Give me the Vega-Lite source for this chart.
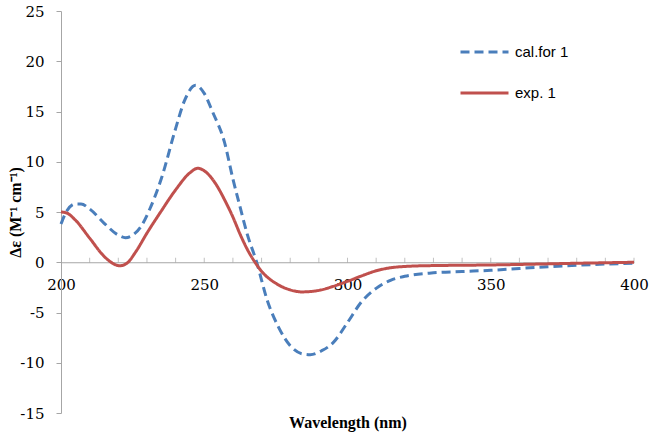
{
  "$schema": "https://vega.github.io/schema/vega-lite/v6.json",
  "width": 573,
  "height": 402,
  "autosize": {"type": "none"},
  "padding": {"left": 61, "top": 11, "right": 19, "bottom": 23},
  "background": "white",
  "config": {
    "view": {"stroke": null}
  },
  "datasets": {
    "minor": [
      {"wl": 210}, {"wl": 220}, {"wl": 230}, {"wl": 240}, {"wl": 250}, {"wl": 260}, {"wl": 270}, {"wl": 280}, {"wl": 290}, {"wl": 300},
      {"wl": 310}, {"wl": 320}, {"wl": 330}, {"wl": 340}, {"wl": 350}, {"wl": 360}, {"wl": 370}, {"wl": 380}, {"wl": 390}, {"wl": 400}
    ],
    "curves": [
    {"wl": 200, "v": 3.8, "s": "cal.for 1"},
    {"wl": 202, "v": 5.1, "s": "cal.for 1"},
    {"wl": 205, "v": 5.8, "s": "cal.for 1"},
    {"wl": 207, "v": 5.8, "s": "cal.for 1"},
    {"wl": 210, "v": 5.3, "s": "cal.for 1"},
    {"wl": 215, "v": 3.9, "s": "cal.for 1"},
    {"wl": 220, "v": 2.7, "s": "cal.for 1"},
    {"wl": 222.5, "v": 2.45, "s": "cal.for 1"},
    {"wl": 225, "v": 2.7, "s": "cal.for 1"},
    {"wl": 228, "v": 3.6, "s": "cal.for 1"},
    {"wl": 231, "v": 5.3, "s": "cal.for 1"},
    {"wl": 235, "v": 8.3, "s": "cal.for 1"},
    {"wl": 240, "v": 13.3, "s": "cal.for 1"},
    {"wl": 243, "v": 16.0, "s": "cal.for 1"},
    {"wl": 247, "v": 17.6, "s": "cal.for 1"},
    {"wl": 250, "v": 16.8, "s": "cal.for 1"},
    {"wl": 253, "v": 14.9, "s": "cal.for 1"},
    {"wl": 257, "v": 12.0, "s": "cal.for 1"},
    {"wl": 260, "v": 8.3, "s": "cal.for 1"},
    {"wl": 262.5, "v": 5.5, "s": "cal.for 1"},
    {"wl": 265, "v": 2.8, "s": "cal.for 1"},
    {"wl": 268.3, "v": 0, "s": "cal.for 1"},
    {"wl": 272, "v": -3.8, "s": "cal.for 1"},
    {"wl": 276, "v": -6.5, "s": "cal.for 1"},
    {"wl": 280, "v": -8.3, "s": "cal.for 1"},
    {"wl": 284, "v": -9.1, "s": "cal.for 1"},
    {"wl": 287, "v": -9.2, "s": "cal.for 1"},
    {"wl": 291, "v": -8.8, "s": "cal.for 1"},
    {"wl": 295, "v": -8.0, "s": "cal.for 1"},
    {"wl": 300, "v": -6.0, "s": "cal.for 1"},
    {"wl": 305, "v": -3.9, "s": "cal.for 1"},
    {"wl": 310, "v": -2.6, "s": "cal.for 1"},
    {"wl": 315, "v": -1.8, "s": "cal.for 1"},
    {"wl": 320, "v": -1.4, "s": "cal.for 1"},
    {"wl": 330, "v": -1.05, "s": "cal.for 1"},
    {"wl": 340, "v": -0.92, "s": "cal.for 1"},
    {"wl": 350, "v": -0.8, "s": "cal.for 1"},
    {"wl": 360, "v": -0.62, "s": "cal.for 1"},
    {"wl": 370, "v": -0.45, "s": "cal.for 1"},
    {"wl": 380, "v": -0.3, "s": "cal.for 1"},
    {"wl": 390, "v": -0.18, "s": "cal.for 1"},
    {"wl": 400, "v": -0.1, "s": "cal.for 1"},
    {"wl": 200, "v": 5.0, "s": "exp. 1"},
    {"wl": 202, "v": 4.9, "s": "exp. 1"},
    {"wl": 205, "v": 4.2, "s": "exp. 1"},
    {"wl": 210, "v": 2.4, "s": "exp. 1"},
    {"wl": 215, "v": 0.6, "s": "exp. 1"},
    {"wl": 218, "v": -0.1, "s": "exp. 1"},
    {"wl": 220.5, "v": -0.35, "s": "exp. 1"},
    {"wl": 223, "v": -0.1, "s": "exp. 1"},
    {"wl": 226, "v": 1.0, "s": "exp. 1"},
    {"wl": 230, "v": 2.9, "s": "exp. 1"},
    {"wl": 235, "v": 5.1, "s": "exp. 1"},
    {"wl": 240, "v": 7.2, "s": "exp. 1"},
    {"wl": 245, "v": 8.9, "s": "exp. 1"},
    {"wl": 247.7, "v": 9.35, "s": "exp. 1"},
    {"wl": 250, "v": 9.1, "s": "exp. 1"},
    {"wl": 254, "v": 7.8, "s": "exp. 1"},
    {"wl": 257.3, "v": 6.1, "s": "exp. 1"},
    {"wl": 260, "v": 4.5, "s": "exp. 1"},
    {"wl": 262.5, "v": 2.8, "s": "exp. 1"},
    {"wl": 265, "v": 1.3, "s": "exp. 1"},
    {"wl": 267.7, "v": 0, "s": "exp. 1"},
    {"wl": 270, "v": -0.9, "s": "exp. 1"},
    {"wl": 275, "v": -2.1, "s": "exp. 1"},
    {"wl": 280, "v": -2.75, "s": "exp. 1"},
    {"wl": 284, "v": -2.95, "s": "exp. 1"},
    {"wl": 290, "v": -2.8, "s": "exp. 1"},
    {"wl": 295, "v": -2.4, "s": "exp. 1"},
    {"wl": 300, "v": -1.9, "s": "exp. 1"},
    {"wl": 305, "v": -1.35, "s": "exp. 1"},
    {"wl": 310, "v": -0.85, "s": "exp. 1"},
    {"wl": 315, "v": -0.55, "s": "exp. 1"},
    {"wl": 320, "v": -0.42, "s": "exp. 1"},
    {"wl": 330, "v": -0.33, "s": "exp. 1"},
    {"wl": 340, "v": -0.3, "s": "exp. 1"},
    {"wl": 350, "v": -0.27, "s": "exp. 1"},
    {"wl": 360, "v": -0.22, "s": "exp. 1"},
    {"wl": 370, "v": -0.16, "s": "exp. 1"},
    {"wl": 380, "v": -0.1, "s": "exp. 1"},
    {"wl": 390, "v": -0.05, "s": "exp. 1"},
    {"wl": 400, "v": 0.0, "s": "exp. 1"}
  ]},
  "layer": [
    {
      "data": {"name": "minor"},
      "mark": {"type": "tick", "orient": "vertical", "size": 5, "thickness": 1, "color": "#a6a6a6", "yOffset": -2},
      "encoding": {
        "x": {"field": "wl", "type": "quantitative"},
        "y": {"datum": 0, "type": "quantitative"}
      }
    },
    {
      "data": {"name": "curves"},
      "mark": {"type": "line", "interpolate": "monotone", "strokeWidth": 3},
      "encoding": {
        "x": {
          "field": "wl", "type": "quantitative",
          "scale": {"domain": [200, 400], "nice": false, "zero": false},
          "axis": {
            "values": [200, 250, 300, 350, 400],
            "offset": -150.75,
            "grid": false,
            "domainColor": "#a6a6a6",
            "tickColor": "#a6a6a6",
            "tickSize": 0,
            "labelPadding": 15,
            "labelFlush": false,
            "labelFont": "DejaVu Serif",
            "labelFontSize": 15,
            "labelColor": "#000000",
            "labelOverlap": false,
            "title": "Wavelength (nm)",
            "titleFont": "Liberation Serif",
            "titleFontSize": 16,
            "titleFontWeight": "bold",
            "titleColor": "#000000",
            "titleY": 152,
            "titleBaseline": "top"
          }
        },
        "y": {
          "field": "v", "type": "quantitative",
          "scale": {"domain": [-15, 25], "nice": false},
          "axis": {
            "values": [-15, -10, -5, 0, 5, 10, 15, 20, 25],
            "labelExpr": "replace(datum.label, '−', '-')",
            "grid": false,
            "domainColor": "#a6a6a6",
            "tickColor": "#a6a6a6",
            "tickSize": 5,
            "labelPadding": 12,
            "labelFont": "DejaVu Serif",
            "labelFontSize": 15,
            "labelColor": "#000000",
            "title": "Δε (M⁻¹ cm⁻¹)",
            "titleFont": "Liberation Serif",
            "titleFontSize": 16,
            "titleFontWeight": "bold",
            "titleColor": "#000000",
            "titleX": -38,
            "titleBaseline": "bottom"
          }
        },
        "color": {
          "field": "s", "type": "nominal",
          "scale": {"domain": ["cal.for 1", "exp. 1"], "range": ["#4a7ebb", "#c0504d"]},
          "legend": {
            "title": null,
            "orient": "none",
            "legendX": 398,
            "legendY": 31,
            "symbolType": "stroke",
            "symbolSize": 2304,
            "symbolStrokeWidth": 3,
            "clipHeight": 20,
            "rowPadding": 21,
            "labelFont": "Liberation Sans",
            "labelFontSize": 15,
            "labelColor": "#000000",
            "labelOffset": 5
          }
        },
        "strokeDash": {
          "field": "s", "type": "nominal",
          "scale": {"domain": ["cal.for 1", "exp. 1"], "range": [[9, 5], [1, 0]]},
          "legend": null
        }
      }
    }
  ]
}
